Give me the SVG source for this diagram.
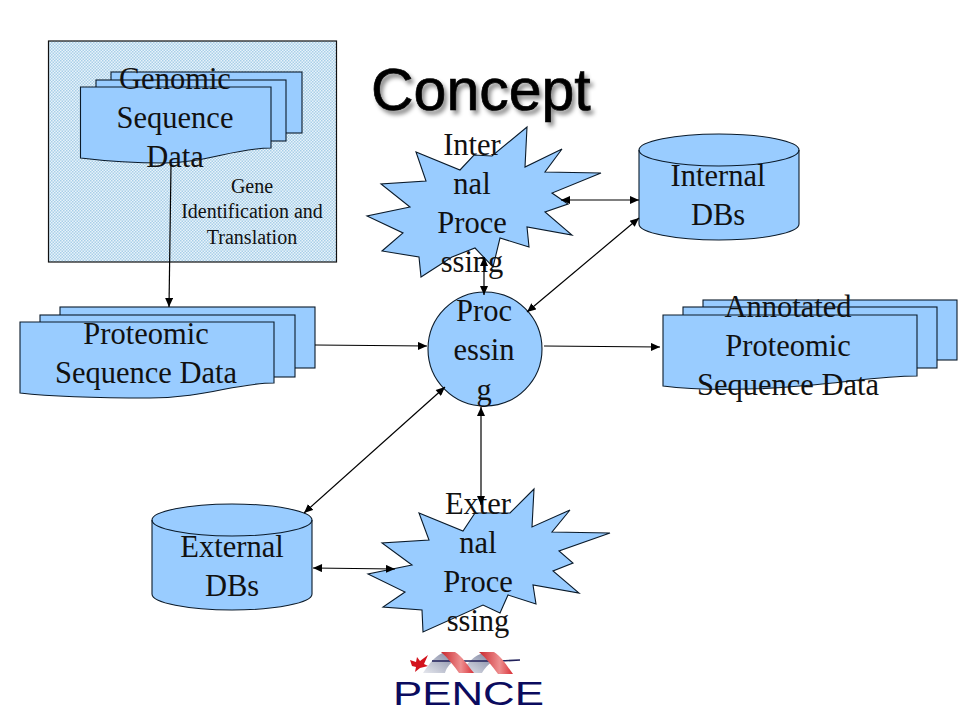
<svg xmlns="http://www.w3.org/2000/svg" width="960" height="720" viewBox="0 0 960 720">
<style>
.s{fill:#99ccff;stroke:#0a1a2a;stroke-width:1.1}
.t{font-family:"Liberation Serif",serif;font-size:30.5px;fill:#111;text-anchor:middle}
.c{stroke:#000;stroke-width:1.2;fill:none;marker-end:url(#a)}
.b{marker-start:url(#as)}
</style>
<defs>
<pattern id="d" width="3" height="3" patternUnits="userSpaceOnUse"><rect width="3" height="3" fill="#e8f3fb"/><rect width="1.5" height="1.5" fill="#a9cfe8"/><rect x="1.5" y="1.5" width="1.5" height="1.5" fill="#a9cfe8"/></pattern>
<marker id="a" markerWidth="10" markerHeight="8" refX="9" refY="4" orient="auto" markerUnits="userSpaceOnUse"><path d="M0 0L9 4L0 8z" fill="#000"/></marker>
<marker id="as" markerWidth="10" markerHeight="8" refX="0" refY="4" orient="auto" markerUnits="userSpaceOnUse"><path d="M9 0L0 4L9 8z" fill="#000"/></marker>
<filter id="sh" x="-10%" y="-20%" width="125%" height="150%"><feDropShadow dx="3" dy="4" stdDeviation="2" flood-color="#000" flood-opacity="0.45"/></filter>
<linearGradient id="rb" x1="0" y1="0" x2="1" y2="0"><stop offset="0" stop-color="#c8262c"/><stop offset="0.6" stop-color="#ee8f90"/><stop offset="1" stop-color="#d83038"/></linearGradient>
<linearGradient id="gr" x1="0" y1="1" x2="1" y2="0"><stop offset="0" stop-color="#e6e8ee"/><stop offset="1" stop-color="#7d84a0"/></linearGradient>
</defs>
<rect width="960" height="720" fill="#fff"/>
<g id="gene-box"><rect x="48.500" y="41" width="288" height="221" fill="url(#d)" stroke="#111" stroke-width="1.2"/>
<text class="t" style="font-size:20px"><tspan x="252" y="193">Gene</tspan><tspan x="252" y="218">Identification and</tspan><tspan x="252" y="244">Translation</tspan></text></g>
<g id="genomic"><rect class="s" x="111" y="72" width="191" height="61"/><rect class="s" x="96" y="80" width="190" height="61"/>
<path class="s" d="M80.500 87H271V148C235 148 205 163 165 163C130 163 105 161 80.500 158Z"/>
<text class="t"><tspan x="175" y="89">Genomic</tspan><tspan x="175" y="128">Sequence</tspan><tspan x="175" y="167">Data</tspan></text></g>
<g id="title"><text x="371" y="110" font-family="'Liberation Sans',sans-serif" font-size="59" fill="#000" stroke="#000" stroke-width="0.7" filter="url(#sh)">Concept</text></g>
<g id="internal-processing"><path class="s" d="M527 127L525 167L562 149L545 172L601 173L552 193L568 204L545 212L572 235L527 227L529 247L500 238L493 267L475 248L452 257L421 277L419 257L382 251L403 233L367 216L410 207L381 184L426 181L416 152L460 170L474 155L492 156Z"/>
<text class="t"><tspan x="472" y="155">Inter</tspan><tspan x="472" y="194">nal</tspan><tspan x="472" y="233">Proce</tspan><tspan x="472" y="272">ssing</tspan></text></g>
<g id="internal-dbs"><path class="s" d="M639 150A80 16 0 0 1 799 150V224A80 16 0 0 1 639 224Z"/><path class="s" style="fill:none" d="M639 150A80 16 0 0 0 799 150"/>
<text class="t"><tspan x="718" y="186">Internal</tspan><tspan x="718" y="225">DBs</tspan></text></g>
<g id="proteomic"><rect class="s" x="60" y="307" width="255" height="61"/><rect class="s" x="40" y="315" width="255" height="62"/>
<path class="s" d="M20 322H274V383C235 383 205 398 150 398C100 398 55 397 20 393Z"/>
<text class="t"><tspan x="146" y="344">Proteomic</tspan><tspan x="146" y="383">Sequence Data</tspan></text></g>
<g id="processing"><circle class="s" cx="485" cy="349" r="57"/>
<text class="t"><tspan x="484" y="321">Proc</tspan><tspan x="484" y="360">essin</tspan><tspan x="484" y="400">g</tspan></text></g>
<g id="annotated"><rect class="s" x="703" y="300" width="254" height="60"/><rect class="s" x="683" y="307" width="254" height="61"/>
<path class="s" d="M663 315H917V376C880 376 850 382 800 386C760 390 700 391 663 386Z"/>
<text class="t"><tspan x="788" y="317">Annotated</tspan><tspan x="788" y="356">Proteomic</tspan><tspan x="788" y="395">Sequence Data</tspan></text></g>
<g id="external-dbs"><path class="s" d="M152 520A80 16 0 0 1 312 520V594A80 16 0 0 1 152 594Z"/><path class="s" style="fill:none" d="M152 520A80 16 0 0 0 312 520"/>
<text class="t"><tspan x="232" y="557">External</tspan><tspan x="232" y="596">DBs</tspan></text></g>
<g id="external-processing"><path class="s" d="M534 489L532 527L570 510L552 532L610 533L559 551L573 563L553 571L579 593L533 585L536 604L508 595L500 613L483 605L423 632L422 610L383 607L405 592L368 574L412 565L382 543L429 540L419 513L463 531L475 513L510 513Z"/>
<text class="t"><tspan x="478" y="514">Exter</tspan><tspan x="478" y="553">nal</tspan><tspan x="478" y="592">Proce</tspan><tspan x="478" y="631">ssing</tspan></text></g>
<g id="connectors">
<path class="c" d="M171 165L169 307"/>
<path class="c" d="M315 345L427 346"/>
<path class="c" d="M544 346L660 347"/>
<path class="c b" d="M561 200L639 200"/>
<path class="c b" d="M639 218L527 312"/>
<path class="c b" d="M484 257L484 295"/>
<path class="c b" d="M481 407L481 505"/>
<path class="c b" d="M445 387L304 513"/>
<path class="c b" d="M313 568L395 569"/>
</g>
<g id="logo">
<path d="M410 660L416 662L417 657L420 661L428 655L424 664L428 666L420 668L415 672L416 667L412 666Z" fill="#d3121c"/>
<path d="M423 673C430 663 436 654 446 652L456 660C448 664 446 670 445 673Z" fill="url(#gr)"/>
<path d="M460 673C468 663 474 655 484 653L492 662C486 666 484 670 482 673Z" fill="url(#gr)"/>
<path d="M432 661L500 661L520 660" stroke="#20205a" stroke-width="1.600" fill="none"/>
<path d="M441 652H455C462 656 468 666 474 673H459C454 666 448 658 441 652Z" fill="url(#rb)"/>
<path d="M479 652H494C501 656 507 666 513 674H498C492 666 486 658 479 652Z" fill="url(#rb)"/>
<text x="393" y="705" font-family="'Liberation Sans',sans-serif" font-size="33" fill="#0b0b5e" textLength="151" lengthAdjust="spacingAndGlyphs">PENCE</text>
</g>
</svg>
